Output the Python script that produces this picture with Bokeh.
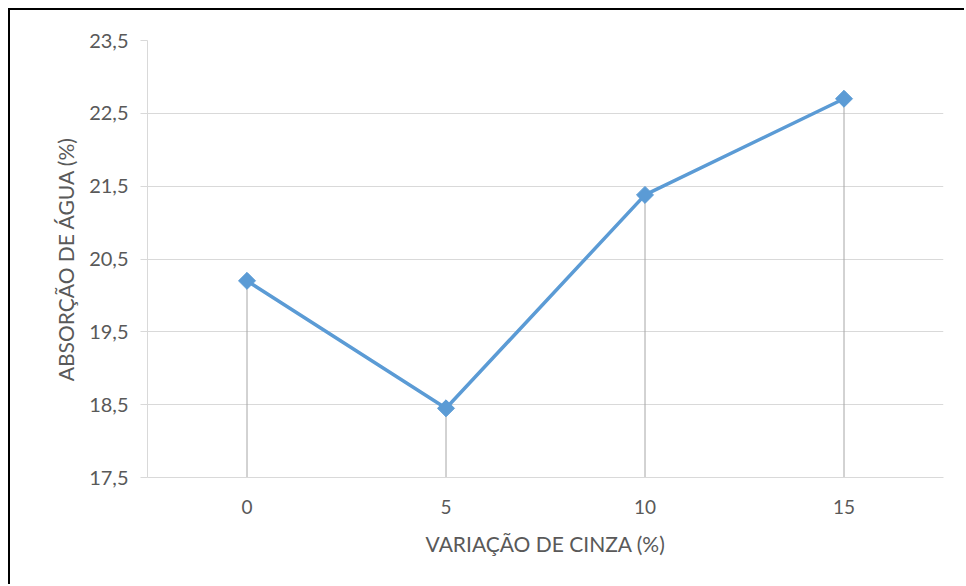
import math
from bokeh.plotting import figure
from bokeh.models import FactorRange, Range1d, FixedTicker, CustomJSTickFormatter
from bokeh.embed import file_html
from bokeh.resources import INLINE

# Water absorption by ash content
cinza = ["0", "5", "10", "15"]
absorcao = [20.2, 18.45, 21.38, 22.7]
y_ticks = [17.5, 18.5, 19.5, 20.5, 21.5, 22.5, 23.5]
y_min, y_max = 17.5, 23.5

FONT = "Lato"
TEXT = "#595959"
GRID = "#d9d9d9"
BLUE = "#5b9bd5"

p = figure(
    width=956, height=576,
    x_range=FactorRange(*cinza),
    y_range=Range1d(y_min, y_max),
    output_backend="svg", toolbar_location=None,
    min_border_left=137, min_border_right=23,
    min_border_top=30, min_border_bottom=109,
    styles={"margin-left": "8px", "margin-top": "8px",
            "border-left": "2px solid #000", "border-top": "2px solid #000"},
)
p.x_range.factor_padding = 0
p.x_range.range_padding = 0.0

p.background_fill_color = "white"
p.border_fill_color = "white"
p.outline_line_color = None

# grid
p.xgrid.grid_line_color = None
p.ygrid.ticker = FixedTicker(ticks=y_ticks)
p.ygrid.grid_line_color = GRID
p.ygrid.grid_line_width = 1

# y axis
p.yaxis.ticker = FixedTicker(ticks=y_ticks)
p.yaxis.formatter = CustomJSTickFormatter(code="return tick.toFixed(1).replace('.', ',');")
p.yaxis.axis_line_color = GRID
p.yaxis.major_tick_line_color = GRID
p.yaxis.major_tick_out = 7
p.yaxis.major_tick_in = 0
p.yaxis.minor_tick_line_color = None
p.yaxis.major_label_text_font = FONT
p.yaxis.major_label_text_font_size = "20px"
p.yaxis.major_label_text_color = TEXT
p.yaxis.major_label_standoff = 12
p.yaxis.axis_label = "ABSORÇÃO DE ÁGUA (%)"
p.yaxis.axis_label_text_font = FONT
p.yaxis.axis_label_text_font_size = "21px"
p.yaxis.axis_label_text_font_style = "normal"
p.yaxis.axis_label_text_color = TEXT
p.yaxis.axis_label_standoff = 8

# x axis
p.xaxis.axis_line_color = GRID
p.xaxis.major_tick_line_color = None
p.xaxis.minor_tick_line_color = None
p.xaxis.major_label_text_font = FONT
p.xaxis.major_label_text_font_size = "19px"
p.xaxis.major_label_text_color = TEXT
p.xaxis.major_label_standoff = 16
p.xaxis.axis_label = "VARIAÇÃO DE CINZA (%)"
p.xaxis.axis_label_text_font = FONT
p.xaxis.axis_label_text_font_size = "21px"
p.xaxis.axis_label_text_font_style = "normal"
p.xaxis.axis_label_text_color = TEXT
p.xaxis.axis_label_standoff = 14

# drop lines from each point to the axis floor
p.segment(x0=cinza, y0=[y_min] * len(cinza), x1=cinza, y1=absorcao,
          line_color="#a6a6a6", line_width=1)

# series line with diamond markers
p.line(cinza, absorcao, line_color=BLUE, line_width=3.5)
p.scatter(cinza, absorcao, marker="square", angle=math.pi / 4, size=12,
          fill_color=BLUE, line_color=BLUE)

open("out.html", "w").write(file_html(p, INLINE))
